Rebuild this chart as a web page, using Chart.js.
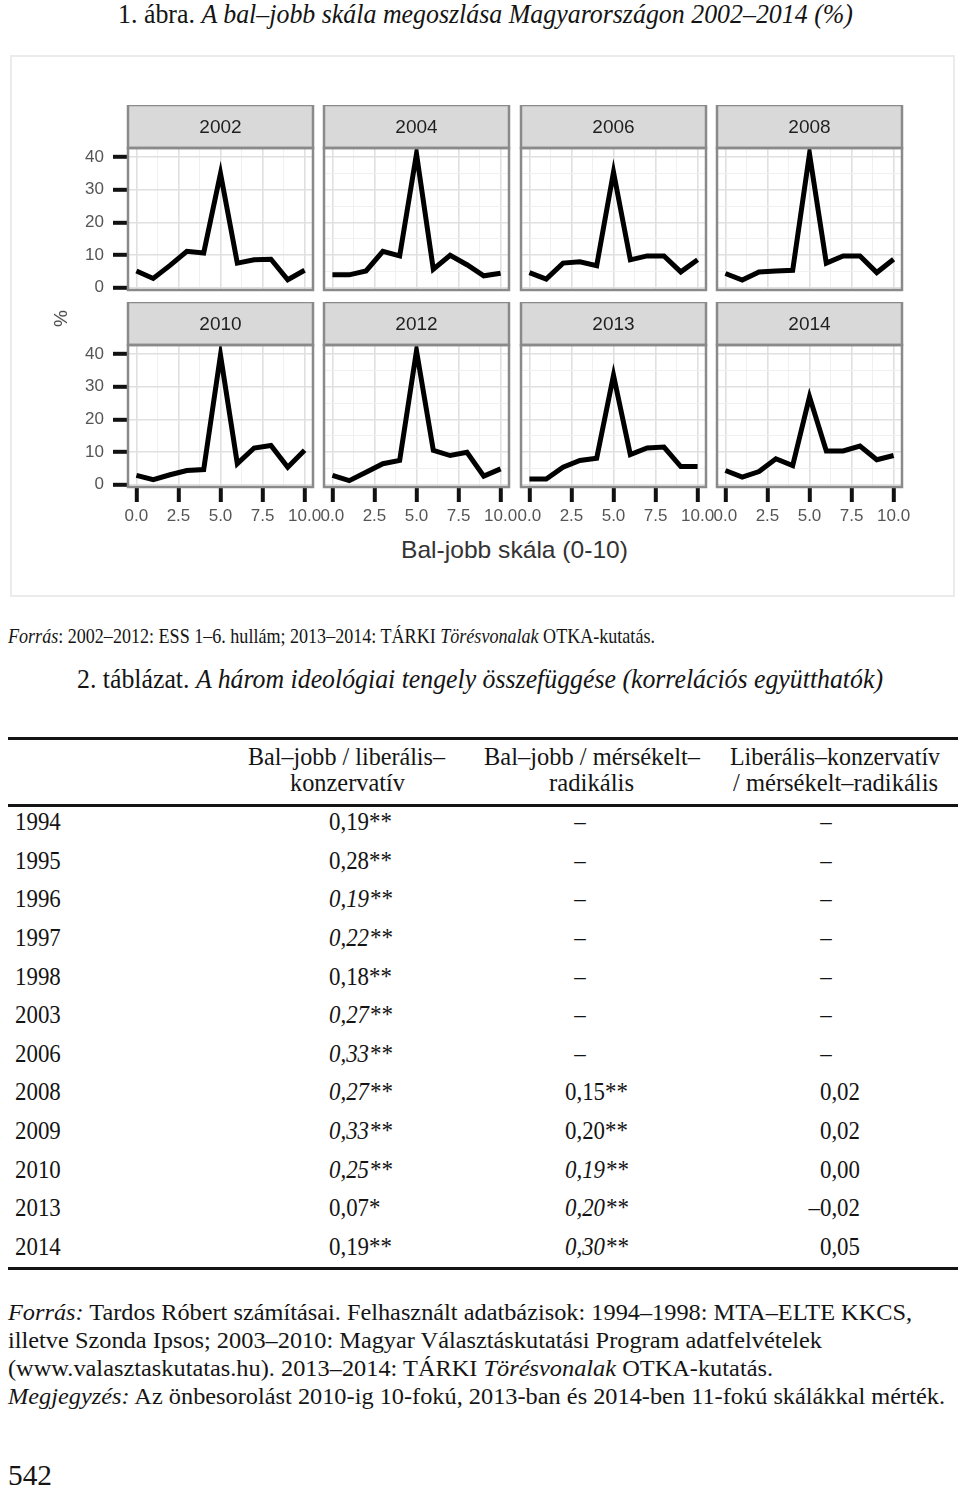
<!DOCTYPE html>
<html>
<head>
<meta charset="utf-8">
<script src="https://cdn.jsdelivr.net/npm/chart.js@4.4.1/dist/chart.umd.min.js"></script>
<style>
    body { margin: 0; background: #fff; width: 960px; height: 1490px; position: relative; overflow: hidden; font-family: "Liberation Serif", "Times New Roman", Times, serif; color: #141414; }
    .t { position: absolute; white-space: nowrap; transform-origin: 0 0; }
    .fig { position: absolute; left: 10px; top: 55px; width: 945px; height: 542px; border: 2px solid #ebebeb; box-sizing: border-box; }
    canvas.p { position: absolute; }
    .rule { position: absolute; left: 8px; width: 950px; height: 3px; background: #141414; }
    .sans { font-family: "Liberation Sans", Arial, Helvetica, sans-serif; }
</style>
</head>
<body>
<div class="fig"></div>
<div class="rule" style="top:737px"></div>
<div class="rule" style="top:804px"></div>
<div class="rule" style="top:1267px"></div>

<script>
// scale points (0-10) and one array of percentages per survey year
const scalePoints = [0, 1, 2, 3, 4, 5, 6, 7, 8, 9, 10];
const panelYears = ["2002", "2004", "2006", "2008", "2010", "2012", "2013", "2014"];
const y2002 = [5.1, 2.8, 6.8, 11.1, 10.6, 35.0, 7.5, 8.5, 8.7, 2.4, 5.3];
const y2004 = [3.9, 3.9, 5.1, 11.1, 9.7, 41.0, 5.6, 9.9, 7.0, 3.6, 4.4];
const y2006 = [4.6, 2.6, 7.5, 7.9, 6.7, 35.4, 8.5, 9.7, 9.7, 4.8, 8.5];
const y2008 = [4.3, 2.3, 4.8, 5.1, 5.3, 41.0, 7.5, 9.7, 9.7, 4.6, 8.7];
const y2010 = [2.8, 1.5, 3.0, 4.3, 4.6, 39.7, 6.4, 11.2, 12.0, 5.3, 10.5];
const y2012 = [2.8, 1.2, 3.8, 6.4, 7.4, 41.0, 10.5, 8.9, 9.9, 2.6, 4.8];
const y2013 = [1.7, 1.7, 5.3, 7.4, 8.1, 33.5, 9.2, 11.2, 11.5, 5.5, 5.5];
const y2014 = [4.3, 2.3, 4.0, 7.9, 5.8, 26.9, 10.3, 10.3, 11.8, 7.6, 8.9];
const panelValues = [y2002, y2004, y2006, y2008, y2010, y2012, y2013, y2014];

const yTicks = [0, 10, 20, 30, 40];
const yMinor = [5, 15, 25, 35];
const xTicks = [0, 2.5, 5, 7.5, 10];
const xMinor = [1.25, 3.75, 6.25, 8.75];

// table 2
const tableYears = ["1994", "1995", "1996", "1997", "1998", "2003", "2006", "2008", "2009", "2010", "2013", "2014"];
const colLiberal = ["0,19**", "0,28**", "0,19**", "0,22**", "0,18**", "0,27**", "0,33**", "0,27**", "0,33**", "0,25**", "0,07*", "0,19**"];
const colLiberalItalic = [0, 0, 1, 1, 0, 1, 1, 1, 1, 1, 0, 0];
const colRadical = ["–", "–", "–", "–", "–", "–", "–", "0,15**", "0,20**", "0,19**", "0,20**", "0,30**"];
const colRadicalItalic = [0, 0, 0, 0, 0, 0, 0, 0, 0, 1, 1, 1];
const colCross = ["–", "–", "–", "–", "–", "–", "–", "0,02", "0,02", "0,00", "–0,02", "0,05"];

const facetFrame = {
    id: 'facetFrame',
    beforeDraw(chart, args, opts) {
        const ctx = chart.ctx, a = chart.chartArea;
        ctx.save();
        ctx.fillStyle = '#fff';
        ctx.fillRect(a.left, a.top, a.right - a.left, a.bottom - a.top);
        ctx.fillStyle = '#d9d9d9';
        ctx.fillRect(a.left, a.top - opts.strip, a.right - a.left, opts.strip);
        ctx.fillStyle = '#1f1f1f';
        ctx.font = '19px "Liberation Sans", Arial, sans-serif';
        ctx.textAlign = 'center';
        ctx.textBaseline = 'middle';
        ctx.fillText(opts.label, (a.left + a.right) / 2, a.top - opts.strip / 2 + 1);
        ctx.restore();
    },
    afterDraw(chart, args, opts) {
        const ctx = chart.ctx, a = chart.chartArea;
        ctx.save();
        ctx.strokeStyle = '#8a8a8a';
        ctx.lineWidth = 2.5;
        ctx.strokeRect(a.left, a.top - opts.strip, a.right - a.left, opts.strip);
        ctx.strokeRect(a.left, a.top, a.right - a.left, a.bottom - a.top);
        ctx.restore();
    }
};

function panel(i) {
    const col = i % 4, row = Math.floor(i / 4);
    const bottomRow = row === 1, firstCol = col === 0;
    const plotLeft = 128 + col * 196.3;
    const stripTop = row ? 302 : 105;
    const axisW = 75, padR = 16, stripH = 43, plotW = 185, plotH = 142;
    const xAxisH = bottomRow ? 44 : 0, padB = bottomRow ? 4 : 14;
    const W = axisW + plotW + padR, H = stripH + plotH + xAxisH + padB;

    const c = document.createElement('canvas');
    c.className = 'p';
    c.width = W; c.height = H;
    c.style.left = (plotLeft - axisW) + 'px';
    c.style.top = stripTop + 'px';
    document.body.appendChild(c);

    const vals = panelValues[i];
    new Chart(c, {
        type: 'line',
        plugins: [facetFrame],
        data: {
            datasets: [{
                data: scalePoints.map((x, k) => ({ x: x, y: vals[k] })),
                borderColor: '#000',
                borderWidth: 5,
                pointRadius: 0,
                tension: 0
            }]
        },
        options: {
            responsive: false,
            animation: false,
            devicePixelRatio: 1,
            layout: { padding: { top: stripH, right: padR, bottom: padB, left: 0 } },
            plugins: {
                legend: { display: false },
                tooltip: { enabled: false },
                facetFrame: { label: panelYears[i], strip: stripH }
            },
            scales: {
                x: {
                    type: 'linear', min: -0.5, max: 10.5,
                    afterBuildTicks: s => { s.ticks = xTicks.concat(xMinor).sort((a, b) => a - b).map(v => ({ value: v })); },
                    afterFit: s => { s.height = xAxisH; s.paddingLeft = 0; s.paddingRight = 0; },
                    border: { display: false },
                    grid: {
                        color: ctx => xTicks.includes(ctx.tick.value) ? '#e0e0e0' : '#f0f0f0',
                        lineWidth: ctx => xTicks.includes(ctx.tick.value) ? 1.6 : 1,
                        drawTicks: bottomRow, tickLength: 15, tickWidth: 4,
                        tickColor: ctx => xTicks.includes(ctx.tick.value) ? '#111' : 'rgba(0,0,0,0)'
                    },
                    ticks: {
                        display: bottomRow, autoSkip: false, maxRotation: 0, padding: 4,
                        color: '#555', font: { family: 'Liberation Sans', size: 17 },
                        callback: v => xTicks.includes(v) ? v.toFixed(1) : ''
                    }
                },
                y: {
                    min: -0.75, max: 42.8,
                    afterBuildTicks: s => { s.ticks = yTicks.concat(yMinor).sort((a, b) => a - b).map(v => ({ value: v })); },
                    afterFit: s => { s.width = axisW; s.paddingTop = 0; s.paddingBottom = 0; },
                    border: { display: false },
                    grid: {
                        color: ctx => yTicks.includes(ctx.tick.value) ? '#e0e0e0' : '#f0f0f0',
                        lineWidth: ctx => yTicks.includes(ctx.tick.value) ? 1.6 : 1,
                        drawTicks: firstCol, tickLength: 15, tickWidth: 4,
                        tickColor: ctx => yTicks.includes(ctx.tick.value) ? '#111' : 'rgba(0,0,0,0)'
                    },
                    ticks: {
                        display: firstCol, padding: 9,
                        color: '#555', font: { family: 'Liberation Sans', size: 17 },
                        callback: v => yTicks.includes(v) ? String(v) : ''
                    }
                }
            }
        }
    });
}

// text placed at a left edge; when x1 is given the line is squeezed/stretched to end there
function put(html, x0, x1, yc, size, cls) {
    const d = document.createElement('div');
    d.className = 't' + (cls ? ' ' + cls : '');
    d.innerHTML = html;
    d.style.fontSize = size + 'px';
    d.style.lineHeight = size + 'px';
    d.style.left = x0 + 'px';
    d.style.top = (yc - size / 2) + 'px';
    document.body.appendChild(d);
    if (x1 != null) {
        const w = d.getBoundingClientRect().width;
        d.style.transform = 'scaleX(' + ((x1 - x0) / w).toFixed(4) + ')';
    }
    return d;
}

// table cell: align 'l', 'c' or 'r' around x, slightly condensed like the scan
const cellSize = 26, cellSqueeze = 0.88;
function cell(text, x, yc, align, italic) {
    const d = put(italic ? '<i>' + text + '</i>' : text, x, null, yc, cellSize);
    const shift = align === 'c' ? ' translateX(-50%)' : align === 'r' ? ' translateX(-100%)' : '';
    d.style.transform = 'scaleX(' + cellSqueeze + ')' + shift;
}

function drawText() {
    put('1. ábra. <i>A bal–jobb skála megoszlása Magyarországon 2002–2014 (%)</i>', 118, 853, 14, 28);

    put('%', 52, null, 318, 19, 'sans').style.cssText += 'color:#444;transform:rotate(-90deg);transform-origin:50% 50%;';
    put('Bal-jobb skála (0-10)', 401, 628, 550, 24, 'sans').style.color = '#333';

    put('<i>Forrás</i>: 2002–2012: ESS 1–6. hullám; 2013–2014: TÁRKI <i>Törésvonalak</i> OTKA-kutatás.', 8, 655, 636, 22);
    put('2. táblázat. <i>A három ideológiai tengely összefüggése (korrelációs együtthatók)</i>', 77, 883, 679, 28);

    put('Bal–jobb / liberális–', 248, 445, 757, 26);
    put('konzervatív', 290, 405, 783, 26);
    put('Bal–jobb / mérsékelt–', 484, 700, 757, 26);
    put('radikális', 549, 634, 783, 26);
    put('Liberális–konzervatív', 730, 940, 757, 26);
    put('/ mérsékelt–radikális', 733, 938, 783, 26);

    tableYears.forEach((yr, i) => {
        const yc = 822 + i * 38.64;
        cell(yr, 15, yc, 'l', false);
        cell(colLiberal[i], 329, yc, 'l', colLiberalItalic[i]);
        if (colRadical[i] === '–') cell('–', 580, yc, 'c', false);
        else cell(colRadical[i], 565, yc, 'l', colRadicalItalic[i]);
        if (colCross[i] === '–') cell('–', 826, yc, 'c', false);
        else cell(colCross[i], 860, yc, 'r', false);
    });

    put('<i>Forrás:</i> Tardos Róbert számításai. Felhasznált adatbázisok: 1994–1998: MTA–ELTE KKCS,', 8, 912, 1312, 23);
    put('illetve Szonda Ipsos; 2003–2010: Magyar Választáskutatási Program adatfelvételek', 8, 822, 1340, 23);
    put('(www.valasztaskutatas.hu). 2013–2014: TÁRKI <i>Törésvonalak</i> OTKA-kutatás.', 8, 773, 1368, 23);
    put('<i>Megjegyzés:</i> Az önbesorolást 2010-ig 10-fokú, 2013-ban és 2014-ben 11-fokú skálákkal mérték.', 8, 945, 1396, 23);

    put('542', 8, 52, 1475, 30);
}

for (let i = 0; i < panelYears.length; i++) panel(i);
document.fonts.ready.then(drawText);
</script>
</body>
</html>
